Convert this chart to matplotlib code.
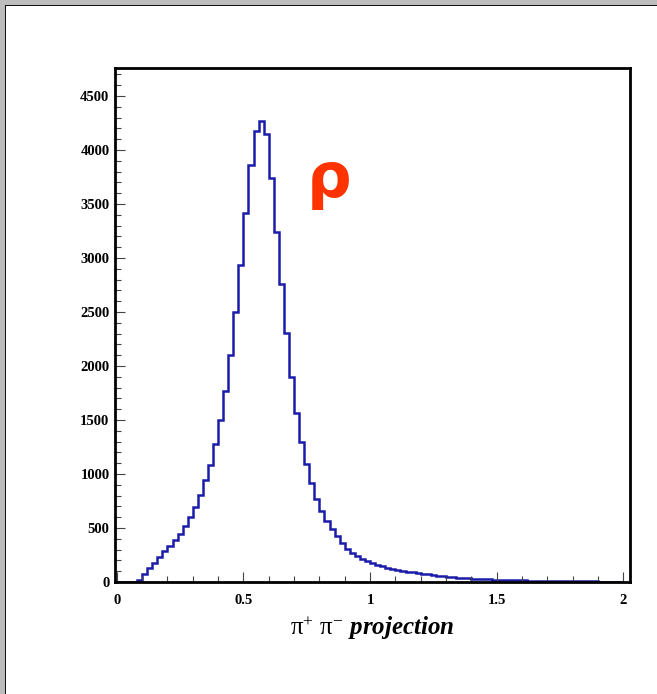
import numpy as np
import matplotlib
matplotlib.use("Agg")
import matplotlib.pyplot as plt
from matplotlib.patches import Rectangle
from matplotlib.ticker import MultipleLocator

plt.rcParams["mathtext.fontset"] = "custom"
plt.rcParams["mathtext.rm"] = "Liberation Serif"
plt.rcParams["mathtext.it"] = "Liberation Serif:italic:bold"
plt.rcParams["mathtext.bf"] = "Liberation Serif:bold"

# pi+ pi- invariant-mass projection, 0.02-wide bins from 0 to 2
bin_width = 0.02
counts = [
    0, 0, 0, 0, 22, 78, 127, 179, 234, 284,
    336, 390, 446, 518, 605, 697, 808, 940, 1088, 1276,
    1500, 1771, 2102, 2503, 2935, 3414, 3865, 4180, 4271, 4150,
    3738, 3243, 2760, 2310, 1898, 1568, 1296, 1090, 914, 772,
    662, 565, 488, 424, 358, 310, 270, 238, 212, 190,
    172, 158, 146, 134, 124, 114, 105, 97, 90, 83,
    76, 70, 64, 59, 54, 49, 45, 41, 38, 35,
    32, 29, 27, 25, 23, 21, 20, 18, 17, 15,
    14, 13, 12, 11, 10, 9, 9, 8, 7, 7,
    6, 6, 5, 5, 5, 4, 4, 4, 3, 3,
]
edges = np.round(np.arange(len(counts) + 1) * bin_width, 2)

x_ticks = [0, 0.5, 1, 1.5, 2]
x_tick_labels = ["0", "0.5", "1", "1.5", "2"]
y_ticks = [0, 500, 1000, 1500, 2000, 2500, 3000, 3500, 4000, 4500]
y_tick_labels = [str(v) for v in y_ticks]

W, H = 657, 694
fig = plt.figure(figsize=(W / 100, H / 100), dpi=100)
fig.patch.set_facecolor("white")

# window frame along the top and left edges
gray = "#bdbdbd"
fig.patches.append(Rectangle((0, 1 - 4.5 / H), 1, 4.5 / H, transform=fig.transFigure,
                             facecolor=gray, edgecolor="none", zorder=0))
fig.patches.append(Rectangle((0, 0), 4.5 / W, 1, transform=fig.transFigure,
                             facecolor=gray, edgecolor="none", zorder=0))
fig.patches.append(Rectangle((4.5 / W, 1 - 6 / H), 1, 1.5 / H, transform=fig.transFigure,
                             facecolor="#111111", edgecolor="none", zorder=0))
fig.patches.append(Rectangle((4.5 / W, 0), 1.5 / W, 1 - 4.5 / H, transform=fig.transFigure,
                             facecolor="#111111", edgecolor="none", zorder=0))

ax = fig.add_axes([115 / W, 1 - 582 / H, (630 - 115) / W, (582 - 68) / H])
ax.stairs(counts, edges, color="#1c1caa", linewidth=1.8)

ax.set_xlim(-0.007, 2.026)
ax.set_ylim(0, 4760)

for s in ax.spines.values():
    s.set_linewidth(2.0)
    s.set_color("black")

ax.set_xticks(x_ticks)
ax.set_xticklabels(x_tick_labels)
ax.set_yticks(y_ticks)
ax.set_yticklabels(y_tick_labels)
ax.xaxis.set_minor_locator(MultipleLocator(0.1))
ax.yaxis.set_minor_locator(MultipleLocator(100))
ax.tick_params(axis="both", which="both", direction="in", top=False, right=False,
               colors="#444444", labelcolor="black", width=0.8)
ax.tick_params(axis="both", which="major", length=7)
ax.tick_params(axis="both", which="minor", length=4)
ax.tick_params(axis="x", which="major", pad=9)
ax.tick_params(axis="y", which="major", pad=4)

for lab in ax.get_xticklabels() + ax.get_yticklabels():
    lab.set_fontfamily("Liberation Serif")
    lab.set_fontweight("bold")
    lab.set_fontsize(10.5)

ax.set_xlabel(r"$\mathrm{\pi}^{+}\ \mathrm{\pi}^{-}\ \mathit{projection}$",
              fontsize=18, labelpad=5)

ax.text(0.838, 3720, "ρ", color="#ff3300", fontsize=45, fontweight="semibold",
        family="DejaVu Sans", ha="center", va="center")

fig.savefig("out.png", dpi=100)
